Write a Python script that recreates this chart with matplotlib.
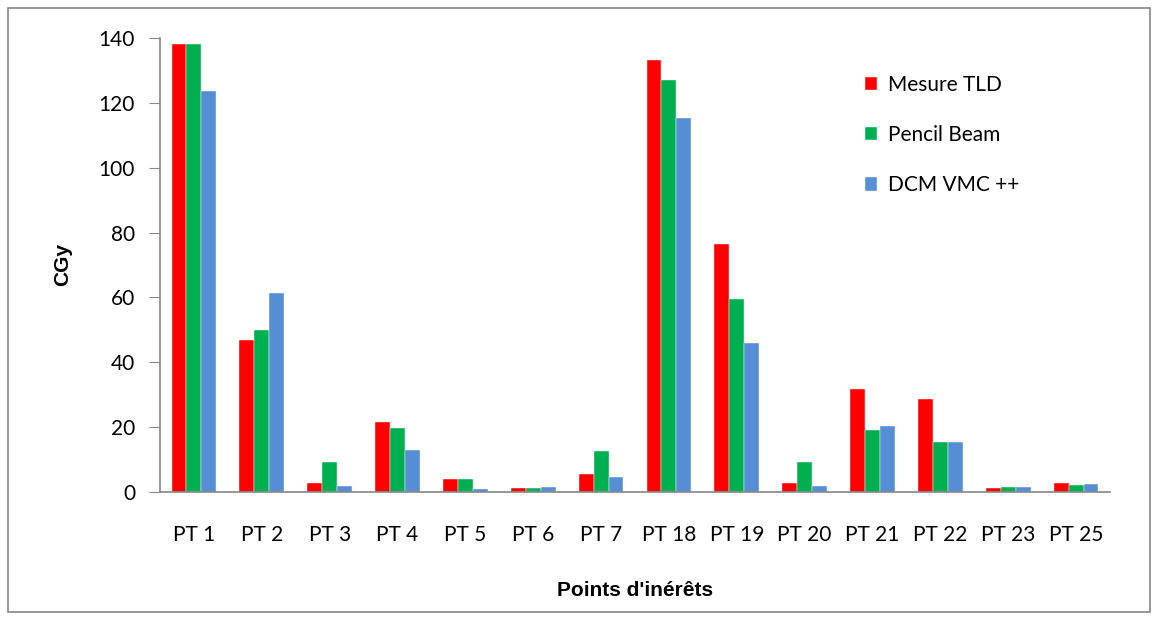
import matplotlib
matplotlib.use("Agg")
import matplotlib.pyplot as plt
import numpy as np
from matplotlib.patches import Rectangle

categories = ["PT 1", "PT 2", "PT 3", "PT 4", "PT 5", "PT 6", "PT 7",
              "PT 18", "PT 19", "PT 20", "PT 21", "PT 22", "PT 23", "PT 25"]
mesure_tld = [138.1, 46.9, 2.8, 21.7, 3.9, 1.1, 5.5, 133.2, 76.4, 2.8, 31.7, 28.6, 1.2, 2.9]
pencil_beam = [138.0, 50.0, 9.1, 19.7, 3.9, 1.1, 12.6, 127.0, 59.5, 9.1, 19.0, 15.5, 1.6, 2.1]
dcm_vmc = [123.6, 61.4, 2.0, 13.1, 0.8, 1.5, 4.7, 115.3, 45.9, 2.0, 20.2, 15.5, 1.6, 2.5]

series = [("Mesure TLD", mesure_tld, "#ff0000"),
          ("Pencil Beam", pencil_beam, "#00b050"),
          ("DCM VMC ++", dcm_vmc, "#558ed5")]

plt.rcParams['font.family'] = ['Lato', 'DejaVu Sans']

fig = plt.figure(figsize=(11.6, 6.19), dpi=100)
ax = fig.add_axes([160 / 1160, 1 - 492 / 619, 950 / 1160, 454 / 619])

x = np.arange(len(categories))
w = 0.22
for i, (name, vals, col) in enumerate(series):
    ax.bar(x + (i - 1) * w, vals, w, color=col, label=name, edgecolor="white", linewidth=0.3)

ax.set_xlim(-0.5, len(categories) - 0.5)
ax.set_ylim(0, 140)
ax.set_yticks(range(0, 141, 20))
ax.set_xticks(x)
ax.set_xticklabels(categories)
ax.tick_params(axis="y", labelsize=15, length=8, color="#868686", pad=10)
ax.tick_params(axis="x", labelsize=15, length=0, pad=24)
for s in ["top", "right"]:
    ax.spines[s].set_visible(False)
for s in ["left", "bottom"]:
    ax.spines[s].set_color("#868686")
    ax.spines[s].set_linewidth(1.2)

ax.set_ylabel("CGy", fontsize=15, fontweight="bold", family="Liberation Sans", labelpad=19)
ax.set_xlabel("Points d'inérêts", fontsize=15, fontweight="bold", family="Liberation Sans", labelpad=26)

ax.legend(loc="upper left", bbox_to_anchor=(0.722, 0.96), frameon=False, fontsize=15,
          handlelength=0.6, handleheight=0.6, handletextpad=0.5, labelspacing=1.45)

fig.patches.append(Rectangle((8 / 1160, 7 / 619), 1142 / 1160, 604 / 619, transform=fig.transFigure,
                             fill=False, edgecolor="#868686", linewidth=1.2))

fig.savefig("out.png", dpi=100)
